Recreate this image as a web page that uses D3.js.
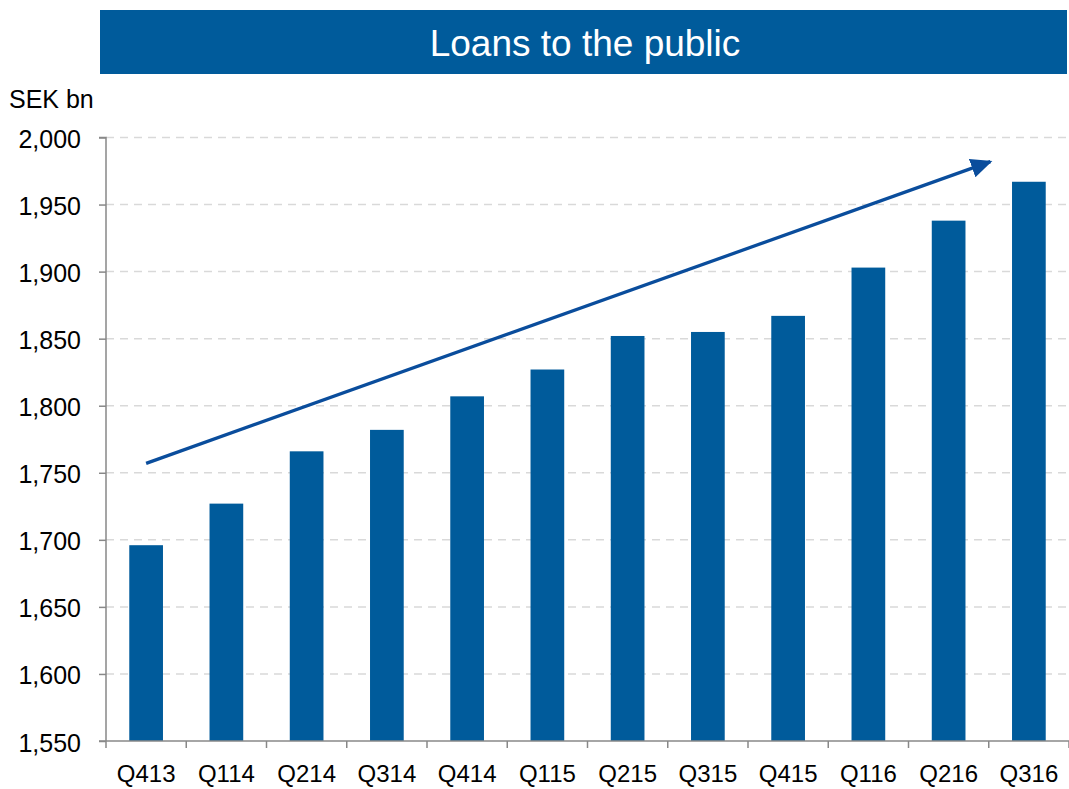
<!DOCTYPE html>
<html>
<head>
<meta charset="utf-8">
<script src="https://cdn.jsdelivr.net/npm/d3@7"></script>
<style>
  html, body { margin: 0; padding: 0; background: #fff; }
  svg { display: block; font-family: "Liberation Sans", Arial, sans-serif; }
</style>
</head>
<body>
<svg id="chart" width="1069" height="789"></svg>
<script>
// Loans to the public, SEK bn, by quarter
const quarters = ["Q413", "Q114", "Q214", "Q314", "Q414", "Q115", "Q215", "Q315", "Q415", "Q116", "Q216", "Q316"];
const loans = [1696, 1727, 1766, 1782, 1807, 1827, 1852, 1855, 1867, 1903, 1938, 1967];
const yTicks = [1550, 1600, 1650, 1700, 1750, 1800, 1850, 1900, 1950, 2000];
// Trend arrow: position in category units (0 = first category centre), value in SEK bn
const trendPos = [0, 10.52];
const trendVal = [1757, 1982];

(function () {
  const svg = d3.select("#chart");
  const mLeft = 106, mRight = 1069, mTop = 137.5, mBottom = 741;

  const x = d3.scaleBand().domain(quarters).range([mLeft, mRight]).paddingInner(0.58).paddingOuter(0.29);
  const y = d3.scaleLinear().domain([1550, 2000]).range([mBottom, mTop]);
  const step = x.step();
  const xPos = p => x(quarters[0]) + x.bandwidth() / 2 + p * step;

  // Title banner
  svg.append("rect").attr("x", 100).attr("y", 10).attr("width", 967).attr("height", 64).attr("fill", "#005b9b");
  svg.append("text").attr("x", 585).attr("y", 56).attr("text-anchor", "middle")
    .attr("fill", "#fff").attr("font-size", 37).text("Loans to the public");

  // Unit label
  svg.append("text").attr("x", 9).attr("y", 108).attr("font-size", 25).attr("fill", "#000").text("SEK bn");

  // Gridlines
  svg.append("g").selectAll("line").data(yTicks.slice(1)).join("line")
    .attr("x1", mLeft).attr("x2", mRight).attr("y1", d => y(d)).attr("y2", d => y(d))
    .attr("stroke", "#d9d9d9").attr("stroke-width", 1.5).attr("stroke-dasharray", "8,6");

  // Bars
  svg.append("g").selectAll("rect").data(quarters).join("rect")
    .attr("x", d => x(d)).attr("width", x.bandwidth())
    .attr("y", (d, i) => y(loans[i])).attr("height", (d, i) => mBottom - y(loans[i]))
    .attr("fill", "#005b9b");

  // Y axis
  const yAxis = d3.axisLeft(y).tickValues(yTicks).tickSize(7).tickPadding(18).tickFormat(d3.format(","));
  const gy = svg.append("g").attr("transform", `translate(${mLeft},0)`).call(yAxis);
  gy.select(".domain").attr("stroke", "#888").attr("stroke-width", 1.5).attr("d", `M-7,${mTop}H0V${mBottom}`);
  gy.selectAll(".tick line").attr("stroke", "#888").attr("stroke-width", 1.5);
  gy.selectAll(".tick text").attr("font-size", 25).attr("fill", "#000").attr("y", 2)
    .attr("font-family", "Liberation Sans, Arial, sans-serif");

  // X axis: ticks between categories
  const gx = svg.append("g");
  gx.append("line").attr("x1", mLeft - 7).attr("x2", mRight).attr("y1", mBottom).attr("y2", mBottom)
    .attr("stroke", "#888").attr("stroke-width", 1.5);
  gx.selectAll("line.sep").data(d3.range(quarters.length + 1)).join("line").attr("class", "sep")
    .attr("x1", i => mLeft + i * step).attr("x2", i => mLeft + i * step)
    .attr("y1", mBottom).attr("y2", mBottom + 7).attr("stroke", "#888").attr("stroke-width", 1.5);
  gx.selectAll("text").data(quarters).join("text")
    .attr("x", d => x(d) + x.bandwidth() / 2).attr("y", 782).attr("text-anchor", "middle")
    .attr("font-size", 24).attr("fill", "#000").text(d => d);

  // Trend arrow
  svg.append("defs").append("marker").attr("id", "head")
    .attr("viewBox", "0 0 10 10").attr("refX", 9).attr("refY", 5)
    .attr("markerWidth", 6.5).attr("markerHeight", 6.5).attr("markerUnits", "strokeWidth")
    .attr("orient", "auto")
    .append("path").attr("d", "M0,0.5L10,5L0,9.5z").attr("fill", "#0a4d9c");
  svg.append("line")
    .attr("x1", xPos(trendPos[0])).attr("y1", y(trendVal[0]))
    .attr("x2", xPos(trendPos[1])).attr("y2", y(trendVal[1]))
    .attr("stroke", "#0a4d9c").attr("stroke-width", 3.3).attr("marker-end", "url(#head)");
})();
</script>
</body>
</html>
